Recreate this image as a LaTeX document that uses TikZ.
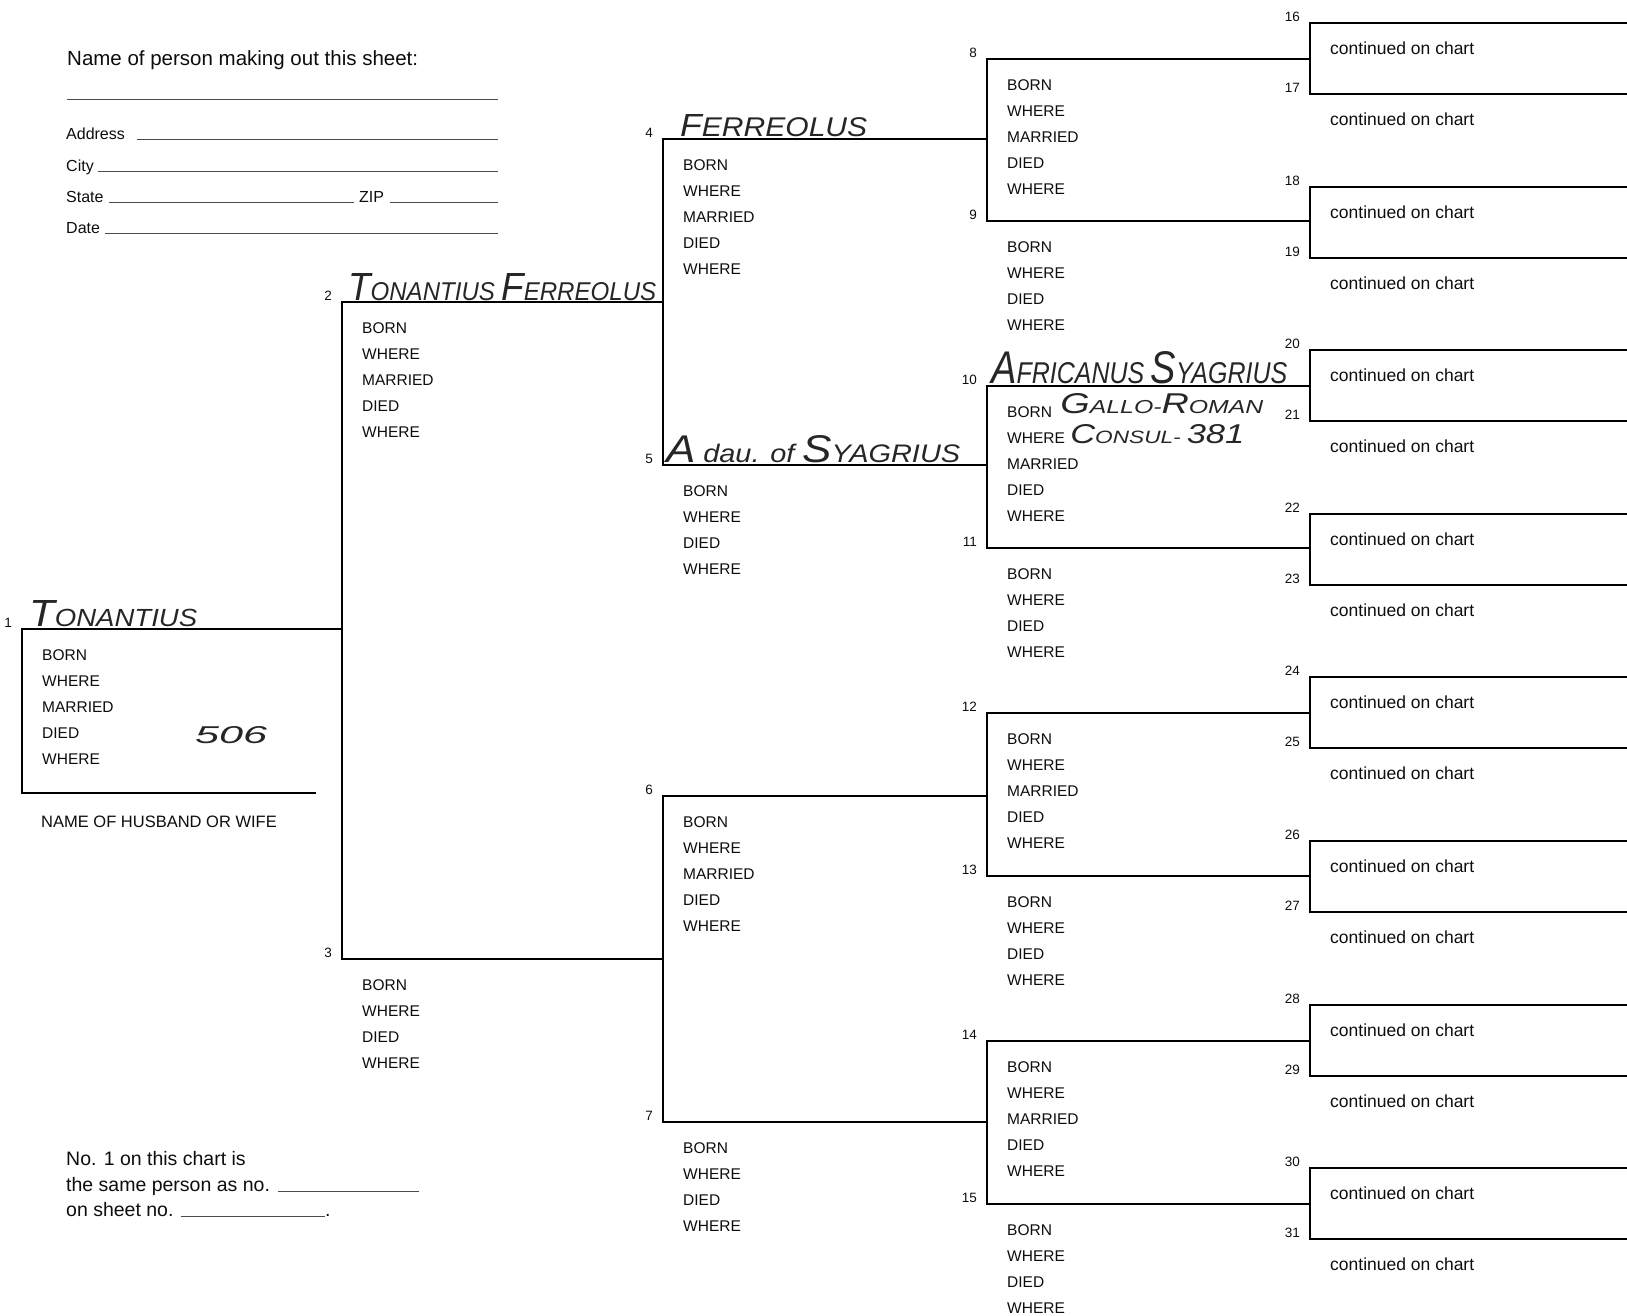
\documentclass[tikz,border=0pt]{standalone}
\usepackage{fontspec}
\usepackage{graphicx}
\setmainfont{Liberation Sans}
\newfontfamily\handfont{Liberation Sans}
\usetikzlibrary{positioning}

% handwritten entries: big first letter, small capitals after it
\newcommand\hcap[2]{{\fontsize{16}{16}\selectfont#1}{\fontsize{10.5}{10.5}\selectfont#2}}
\newcommand\hand[3]{\resizebox{#1pt}{#2pt}{\handfont\itshape#3}}

\begin{document}
\begin{tikzpicture}[x=1pt, y=-1pt,
  ln/.style={line width=2.5pt, line cap=rect},
  rul/.style={line width=0.9pt, black!70},
  fld/.style={anchor=base west, inner sep=0pt, text=black!95, font=\fontsize{15.5}{18}\selectfont},
  num/.style={fld, anchor=base east, font=\fontsize{13.5}{16}\selectfont},
  cont/.style={fld, font=\fontsize{17.5}{20}\selectfont},
  frm/.style={fld, font=\fontsize{16}{19}\selectfont},
  head/.style={fld, font=\fontsize{20.5}{24}\selectfont},
  note/.style={fld, font=\fontsize{19.5}{23}\selectfont},
  hw/.style={anchor=base west, inner sep=0pt, text=black!85}
]
\useasboundingbox (0,0) rectangle (1627,1315);

% start of each person's line
\foreach \n/\x/\y in {1/22/629, 2/342/302, 3/342/959,
    4/663/139, 5/663/465, 6/663/796, 7/663/1122,
    8/987/59, 9/987/221, 10/987/386, 11/987/548,
    12/987/713, 13/987/876, 14/987/1041, 15/987/1204,
    16/1310/23, 17/1310/94, 18/1310/187, 19/1310/258,
    20/1310/350, 21/1310/421, 22/1310/514, 23/1310/585,
    24/1310/677, 25/1310/748, 26/1310/841, 27/1310/912,
    28/1310/1005, 29/1310/1076, 30/1310/1168, 31/1310/1239}
  \coordinate (p\n) at (\x,\y);
\coordinate (rim) at (1627,0);
\coordinate (sp) at (315,793);

% the chart
\foreach \n [evaluate=\n as \f using int(2*\n), evaluate=\n as \m using int(2*\n+1)] in {1,...,15} {
  \draw[ln] (p\n) -- (p\n -| p\f);
  \draw[ln] (p\f) -- (p\m);
}
\foreach \n in {16,...,31}
  \draw[ln] (p\n) -- (p\n -| rim);
\draw[ln] (p1) -- (p1 |- sp) -- (sp);

% numbers and fields
\foreach \n in {1,...,31}
  \node[num] (n\n) at ([shift={(-10,-1.5)}]p\n) {\n};
\foreach \n in {1,2,4,6,8,10,12,14}
  \foreach \t [count=\r] in {BORN,WHERE,MARRIED,DIED,WHERE}
    \node[fld] (fld\n-\r) at ([shift={(20,26*\r+5.5)}]p\n) {\t};
\foreach \n in {3,5,7,9,11,13,15}
  \foreach \t [count=\r] in {BORN,WHERE,DIED,WHERE}
    \node[fld] (fld\n-\r) at ([shift={(20,26*\r+5.5)}]p\n) {\t};
\foreach \n in {16,...,31}
  \node[cont] (c\n) at ([shift={(20,31)}]p\n) {continued on chart};
\node[frm, font=\fontsize{16.5}{19}\selectfont] (spn) at (41,827) {NAME OF HUSBAND OR WIFE};

% form at the top left
\coordinate (fe) at (498,0);
\node[head] (hdr) at (67,65) {Name of person making out this sheet:};
\coordinate (nl) at (67,99);
\draw[rul] (nl) -- (nl -| fe);
\node[frm] (adr) at (66,139) {Address};
\draw[rul] ([xshift=12]adr.base east) -- (adr.base east -| fe);
\node[frm] (cty) at (66,171) {City};
\draw[rul] ([xshift=4]cty.base east) -- (cty.base east -| fe);
\node[frm] (ste) at (66,202) {State};
\node[frm] (zip) at (359,202) {ZIP};
\draw[rul] ([xshift=5]ste.base east) -- ([xshift=-5]zip.base west);
\draw[rul] ([xshift=6]zip.base east) -- (zip.base east -| fe);
\node[frm] (dte) at (66,233) {Date};
\draw[rul] ([xshift=5]dte.base east) -- (dte.base east -| fe);

% note at the bottom left
\node[note] (nt1) at (66,1165) {No. 1 on this chart is};
\node[note] (nt2) at (66,1191) {the same person as no.};
\coordinate (ne) at (419,0);
\draw[rul] ([xshift=8]nt2.base east) -- (nt2.base east -| ne);
\node[note] (nt3) at (66,1216) {on sheet no.};
\node[note] (nt3d) at (325,1216) {.};
\draw[rul] ([xshift=7]nt3.base east) -- (nt3d.base west);

% handwritten entries
\node[hw] (h1) at (29,626) {\hand{168}{26}{\hcap{T}{ONANTIUS}}};
\node[hw] (h1d) at (195,743) {\hand{72}{17}{506}};
\node[hw] (h2) at (348,300) {\hand{308}{27}{\hcap{T}{ONANTIUS} \hcap{F}{ERREOLUS}}};
\node[hw] (h4) at (680,136) {\hand{187}{22}{{\fontsize{13}{13}\selectfont F}{\fontsize{11}{11}\selectfont ERREOLUS}}};
\node[hw] (h5) at (666,462) {\hand{294}{27}{{\fontsize{16}{16}\selectfont A} {\fontsize{10.5}{10.5}\selectfont dau. of} \hcap{S}{YAGRIUS}}};
\node[hw] (h10) at (991,383) {\hand{296}{32}{\hcap{A}{FRICANUS} \hcap{S}{YAGRIUS}}};
\node[hw] (h10b) at ([xshift=8,yshift=4]fld10-1.base east) {\hand{203}{20}{\hcap{G}{ALLO-}\hcap{R}{OMAN}}};
\node[hw] (h10w) at ([xshift=5]fld10-2.base east) {\hand{174}{19}{\hcap{C}{ONSUL-} {\fontsize{16}{16}\selectfont 381}}};
\end{tikzpicture}
\end{document}
